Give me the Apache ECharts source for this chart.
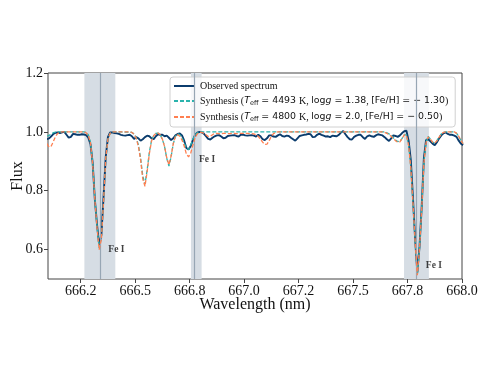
<!DOCTYPE html>
<html>
<head>
<meta charset="utf-8">
<script src="https://cdn.jsdelivr.net/npm/echarts@6/dist/echarts.min.js"></script>
<style>
  html, body { margin: 0; padding: 0; background: #fff; }
  #chart { width: 491px; height: 379px; }
</style>
</head>
<body>
<div id="chart"></div>
<script>
// wavelength grid (nm), 0.01 nm sampling
const wavelength = Array.from({ length: 192 }, (_, i) => +(666.095 + 0.01 * i).toFixed(3))

// observed spectrum
const observedFlux = [
  0.975, 0.978, 0.985, 0.993, 0.997, 0.998, 0.996, 0.998, 1.000, 0.990,
  0.980, 0.983, 0.993, 0.992, 0.990, 0.990, 0.992, 0.991, 0.989, 0.980,
  0.958, 0.895, 0.770, 0.685, 0.615, 0.650, 0.780, 0.915, 0.982, 0.998,
  0.998, 0.996, 0.995, 0.993, 0.990, 0.988, 0.987, 0.989, 0.990, 0.985,
  0.976, 0.982, 0.978, 0.970, 0.975, 0.982, 0.987, 0.985, 0.978, 0.975,
  0.985, 0.992, 0.990, 0.990, 0.985, 0.987, 0.980, 0.972, 0.978, 0.988,
  0.993, 0.995, 0.988, 0.970, 0.945, 0.940, 0.952, 0.972, 0.990, 0.997,
  1.000, 0.998, 0.994, 0.985, 0.976, 0.974, 0.980, 0.985, 0.988, 0.989,
  0.984, 0.978, 0.980, 0.986, 0.987, 0.988, 0.989, 0.986, 0.984, 0.990,
  0.991, 0.988, 0.987, 0.988, 0.989, 0.987, 0.984, 0.990, 0.985, 0.975,
  0.972, 0.978, 0.988, 0.988, 0.984, 0.983, 0.988, 0.992, 0.986, 0.984,
  0.987, 0.986, 0.980, 0.975, 0.970, 0.978, 0.986, 0.988, 0.990, 0.991,
  0.993, 0.992, 0.982, 0.983, 0.990, 0.994, 0.990, 0.987, 0.984, 0.985,
  0.982, 0.987, 0.986, 0.985, 0.990, 0.998, 1.003, 0.992, 0.982, 0.975,
  0.974, 0.983, 0.987, 0.990, 0.990, 0.982, 0.976, 0.985, 0.988, 0.985,
  0.983, 0.988, 0.992, 0.990, 0.988, 0.982, 0.975, 0.969, 0.978, 0.988,
  0.986, 0.983, 0.988, 0.996, 1.002, 1.004, 0.970, 0.905, 0.775, 0.635,
  0.522, 0.610, 0.745, 0.910, 0.972, 0.975, 0.968, 0.960, 0.955, 0.965,
  0.978, 0.988, 0.995, 0.998, 0.993, 0.990, 0.990, 0.987, 0.983, 0.970,
  0.960, 0.955
]

// synthesis Teff=4493 K
const synthAFlux = [
  0.985, 0.988, 0.993, 0.997, 0.999, 1.000, 1.000, 1.000, 1.000, 1.000,
  1.000, 1.000, 1.000, 1.000, 1.000, 1.000, 1.000, 1.000, 0.998, 0.990,
  0.965, 0.895, 0.775, 0.680, 0.605, 0.640, 0.770, 0.905, 0.975, 0.995,
  1.000, 1.000, 1.000, 1.000, 1.000, 0.999, 0.999, 0.999, 0.999, 0.998,
  0.993, 0.980, 0.955, 0.910, 0.850, 0.822, 0.870, 0.930, 0.970, 0.988,
  0.995, 0.996, 0.990, 0.975, 0.950, 0.910, 0.884, 0.915, 0.960, 0.985,
  0.993, 0.990, 0.980, 0.963, 0.945, 0.940, 0.955, 0.975, 0.990, 0.997,
  1.000, 1.000, 1.000, 1.000, 1.000, 1.000, 1.000, 1.000, 1.000, 1.000,
  1.000, 1.000, 1.000, 1.000, 1.000, 1.000, 1.000, 1.000, 1.000, 1.000,
  1.000, 1.000, 1.000, 1.000, 1.000, 1.000, 1.000, 1.000, 1.000, 1.000,
  1.000, 1.000, 1.000, 1.000, 1.000, 1.000, 1.000, 1.000, 1.000, 1.000,
  1.000, 1.000, 1.000, 1.000, 1.000, 1.000, 1.000, 1.000, 1.000, 1.000,
  1.000, 1.000, 1.000, 1.000, 1.000, 1.000, 1.000, 1.000, 1.000, 1.000,
  1.000, 1.000, 1.000, 1.000, 1.000, 1.000, 1.000, 1.000, 1.000, 1.000,
  1.000, 1.000, 1.000, 1.000, 1.000, 1.000, 1.000, 1.000, 1.000, 1.000,
  1.000, 1.000, 1.000, 1.000, 1.000, 1.000, 0.997, 0.993, 0.988, 0.980,
  0.972, 0.967, 0.968, 0.978, 0.990, 0.990, 0.955, 0.880, 0.760, 0.630,
  0.515, 0.605, 0.740, 0.895, 0.965, 0.985, 0.975, 0.965, 0.962, 0.970,
  0.982, 0.993, 0.998, 1.000, 1.000, 1.000, 1.000, 1.000, 0.995, 0.985,
  0.970, 0.960
]

// synthesis Teff=4800 K
const synthBFlux = [
  0.960, 0.948, 0.952, 0.968, 0.985, 0.995, 0.999, 1.000, 1.000, 1.000,
  1.000, 1.000, 1.000, 1.000, 1.000, 1.000, 1.000, 1.000, 0.997, 0.988,
  0.962, 0.890, 0.770, 0.675, 0.600, 0.635, 0.765, 0.910, 0.975, 0.995,
  1.000, 1.000, 1.000, 1.000, 1.000, 1.000, 1.000, 1.000, 1.000, 0.998,
  0.992, 0.978, 0.950, 0.905, 0.840, 0.815, 0.865, 0.925, 0.968, 0.987,
  0.995, 0.996, 0.990, 0.975, 0.950, 0.912, 0.888, 0.918, 0.960, 0.985,
  0.990, 0.985, 0.972, 0.952, 0.925, 0.915, 0.928, 0.955, 0.980, 0.993,
  0.998, 0.998, 0.995, 0.990, 0.984, 0.985, 0.990, 0.995, 0.995, 0.994,
  0.994, 0.995, 0.995, 0.994, 0.994, 0.995, 0.995, 0.994, 0.994, 0.995,
  0.995, 0.995, 0.995, 0.994, 0.994, 0.993, 0.990, 0.985, 0.975, 0.965,
  0.957, 0.958, 0.970, 0.985, 0.994, 0.998, 1.000, 1.000, 1.000, 1.000,
  1.000, 1.000, 1.000, 1.000, 1.000, 1.000, 1.000, 1.000, 1.000, 1.000,
  1.000, 1.000, 1.000, 1.000, 1.000, 1.000, 1.000, 1.000, 1.000, 1.000,
  1.000, 1.000, 1.000, 1.000, 1.000, 1.000, 1.000, 1.000, 1.000, 1.000,
  1.000, 1.000, 1.000, 1.000, 1.000, 1.000, 1.000, 1.000, 1.000, 1.000,
  1.000, 1.000, 1.000, 1.000, 1.000, 0.998, 0.995, 0.990, 0.985, 0.978,
  0.970, 0.965, 0.966, 0.977, 0.990, 0.988, 0.955, 0.878, 0.758, 0.628,
  0.513, 0.603, 0.738, 0.893, 0.963, 0.983, 0.975, 0.965, 0.962, 0.970,
  0.982, 0.993, 0.998, 1.000, 1.000, 1.000, 1.000, 1.000, 0.995, 0.985,
  0.970, 0.960
]

// Fe I line windows and centres
const bandStart = [666.267, 666.756, 667.734]
const bandEnd = [666.409, 666.805, 667.848]
const lineCentre = [666.343, 666.771, 667.794]
const feLabelX = [666.377, 666.793, 667.834]
const feLabelY = [0.600, 0.906, 0.545]

// ticks
const xTicks = [666.25, 666.5, 666.75, 667.0, 667.25, 667.5, 667.75, 668.0]
const xTickLabels = ['666.2', '666.5', '666.8', '667.0', '667.2', '667.5', '667.8', '668.0']
const yTicks = [0.6, 0.8, 1.0, 1.2]
const yTickLabels = ['0.6', '0.8', '1.0', '1.2']

const names = [
  'Observed spectrum',
  'Synthesis A',
  'Synthesis B'
]
const legendText = {
  'Observed spectrum': '{serif|Observed spectrum}',
  'Synthesis A': '{serif|Synthesis (}{it|T}{sub|eff}{sans| = 4493 }{serif|K, }{sans|log}{it|g}{sans| = 1.38}{serif|, }{sans|[Fe/H] = − 1.30}{serif|)}',
  'Synthesis B': '{serif|Synthesis (}{it|T}{sub|eff}{sans| = 4800 }{serif|K, }{sans|log}{it|g}{sans| = 2.0}{serif|, }{sans|[Fe/H] = − 0.50}{serif|)}'
}

const serif = 'Liberation Serif'
const sans = 'DejaVu Sans'

const chart = echarts.init(document.getElementById('chart'))

const pairs = arr => wavelength.map((w, i) => [w, arr[i]])

chart.setOption({
  animation: false,
  grid: {
    left: 48, right: 29, top: 73, bottom: 100,
    outerBoundsMode: 'none',
    show: true, borderColor: '#444', borderWidth: 1, backgroundColor: 'transparent'
  },
  legend: {
    orient: 'vertical',
    left: 170,
    top: 77,
    padding: [4, 7, 4, 3],
    itemGap: 5,
    itemWidth: 21,
    itemHeight: 10,
    backgroundColor: 'rgba(255,255,255,0.8)',
    borderColor: '#d0d0d0',
    borderWidth: 1,
    borderRadius: 3,
    data: names,
    // hide the marker, keep only the line sample
    itemStyle: { opacity: 0 },
    formatter: name => legendText[name],
    textStyle: {
      color: '#111',
      fontFamily: serif,
      fontSize: 10,
      rich: {
        serif: { fontFamily: serif, fontSize: 10, color: '#111' },
        sans: { fontFamily: sans, fontSize: 9.4, color: '#111' },
        it: { fontFamily: sans, fontSize: 9.4, fontStyle: 'italic', color: '#111' },
        sub: { fontFamily: sans, fontSize: 6.5, color: '#111', verticalAlign: 'bottom', padding: [5, 0, 0, 0] }
      }
    }
  },
  xAxis: {
    type: 'value',
    min: 666.1,
    max: 668.0,
    name: 'Wavelength (nm)',
    nameLocation: 'middle',
    nameGap: 18,
    nameMoveOverlap: false,
    nameTextStyle: { fontFamily: serif, fontSize: 16, color: '#111' },
    axisLine: { show: false },
    splitLine: { show: false },
    axisTick: { show: true, length: 4, customValues: xTicks, lineStyle: { color: '#444' } },
    axisLabel: {
      customValues: xTicks,
      margin: 5,
      fontFamily: serif,
      fontSize: 14,
      color: '#111',
      formatter: v => xTickLabels[xTicks.findIndex(t => Math.abs(t - v) < 1e-6)]
    }
  },
  yAxis: {
    type: 'value',
    min: 0.5,
    max: 1.2,
    name: 'Flux',
    nameLocation: 'middle',
    nameRotate: 90,
    nameGap: 22,
    nameMoveOverlap: false,
    nameTextStyle: { fontFamily: serif, fontSize: 16, color: '#111' },
    axisLine: { show: false },
    splitLine: { show: false },
    axisTick: { show: true, length: 4, customValues: yTicks, lineStyle: { color: '#444' } },
    axisLabel: {
      customValues: yTicks,
      margin: 5,
      fontFamily: serif,
      fontSize: 14,
      color: '#111',
      formatter: v => yTickLabels[yTicks.findIndex(t => Math.abs(t - v) < 1e-6)]
    }
  },
  series: [
    {
      name: 'bands',
      type: 'line',
      data: [],
      z: 1,
      silent: true,
      markArea: {
        silent: true,
        itemStyle: { color: '#d6dde4' },
        data: bandStart.map((s, i) => [{ xAxis: s }, { xAxis: bandEnd[i] }])
      },
      markLine: {
        silent: true,
        symbol: 'none',
        label: { show: false },
        lineStyle: { color: '#97a6b4', width: 1.2, type: 'solid' },
        data: lineCentre.map(c => ({ xAxis: c }))
      }
    },
    {
      name: names[0],
      type: 'line',
      data: pairs(observedFlux),
      symbol: 'none',
      z: 3,
      color: '#0b3c6d',
      lineStyle: { color: '#0b3c6d', width: 1.9 }
    },
    {
      name: names[1],
      type: 'line',
      data: pairs(synthAFlux),
      symbol: 'none',
      z: 4,
      color: '#2bb3ad',
      lineStyle: { color: '#2bb3ad', width: 1.3, type: [4, 2] }
    },
    {
      name: names[2],
      type: 'line',
      data: pairs(synthBFlux),
      symbol: 'none',
      z: 5,
      color: '#ff7f50',
      lineStyle: { color: '#ff7f50', width: 1.3, type: [4, 2] }
    },
    {
      name: 'labels',
      type: 'scatter',
      data: feLabelX.map((x, i) => [x, feLabelY[i]]),
      symbolSize: 0,
      silent: true,
      z: 6,
      label: {
        show: true,
        position: 'right',
        distance: 0,
        formatter: 'Fe I',
        fontFamily: serif,
        fontWeight: 'bold',
        fontSize: 9.5,
        color: '#111'
      }
    }
  ]
})
</script>
</body>
</html>
